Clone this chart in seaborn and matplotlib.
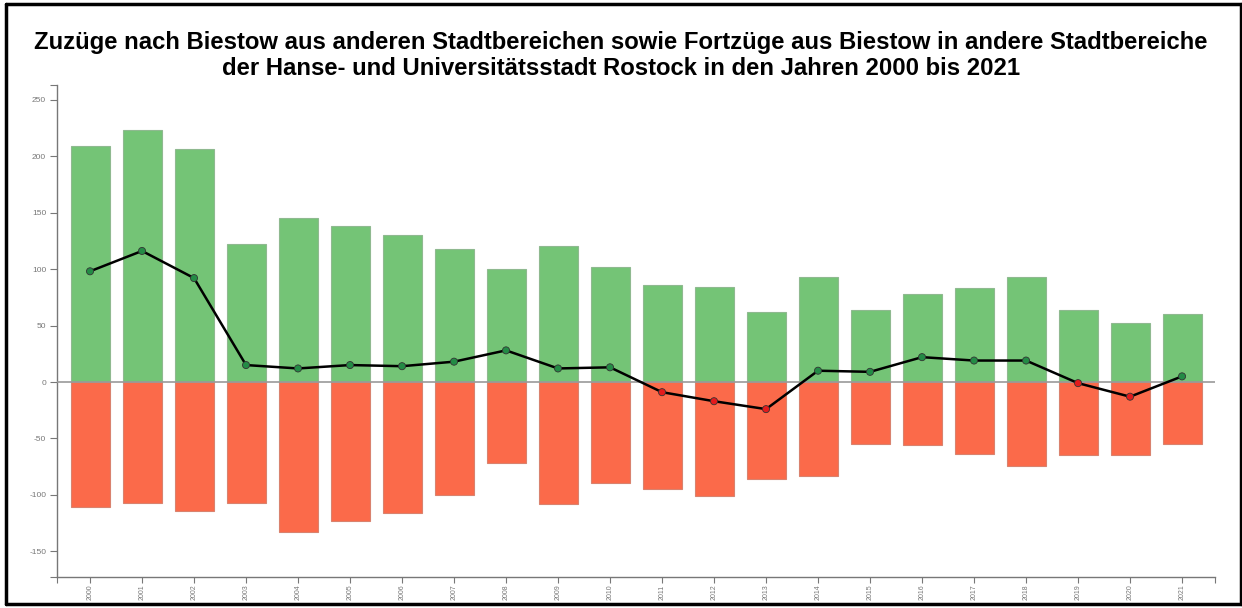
import matplotlib
matplotlib.use("Agg")
import matplotlib.pyplot as plt
import numpy as np
import pandas as pd
import seaborn as sns
from matplotlib.lines import Line2D

# Zuzüge / Fortzüge Biestow, 2000-2021
years = list(range(2000, 2022))
zuzuege = [209, 223, 206, 122, 145, 138, 130, 118, 100, 120, 102,
           86, 84, 62, 93, 64, 78, 83, 93, 64, 52, 60]
fortzuege = [-111, -107, -114, -107, -133, -123, -116, -100, -72, -108, -89,
             -95, -101, -86, -83, -55, -56, -64, -74, -65, -65, -55]
saldo = [z + f for z, f in zip(zuzuege, fortzuege)]

TITLE = ("Zuzüge nach Biestow aus anderen Stadtbereichen sowie Fortzüge aus Biestow in andere Stadtbereiche\n"
         "der Hanse- und Universitätsstadt Rostock in den Jahren 2000 bis 2021")

GREEN = "#74c476"
RED = "#fb6a4a"
GRAY = "#777777"

df = pd.DataFrame(dict(jahr=years, zuzuege=zuzuege, fortzuege=fortzuege, saldo=saldo))
df["vorzeichen"] = np.where(df["saldo"] >= 0, "plus", "minus")

sns.set_style("white")
plt.rcParams["font.family"] = ["Liberation Sans", "DejaVu Sans"]

fig = plt.figure(figsize=(12.42, 6.08), dpi=100)
ax = fig.add_axes([0.0461, 0.051, 0.932, 0.809])

sns.barplot(data=df, x="jahr", y="zuzuege", native_scale=True, width=0.75,
            color=GREEN, saturation=1, edgecolor="#8fb990", linewidth=0.8, ax=ax)
sns.barplot(data=df, x="jahr", y="fortzuege", native_scale=True, width=0.75,
            color=RED, saturation=1, edgecolor="#d9826e", linewidth=0.8, ax=ax)

ax.axhline(0, color="#999999", linewidth=1.2, zorder=3)

sns.lineplot(data=df, x="jahr", y="saldo", color="black", linewidth=1.8,
             zorder=4, ax=ax, legend=False)
sns.scatterplot(data=df, x="jahr", y="saldo", hue="vorzeichen",
                palette={"plus": "#238b45", "minus": "#e31a1c"},
                s=26, edgecolor="#333333", linewidth=0.6, zorder=5,
                ax=ax, legend=False)

ax.set_xlim(years[0] - 0.63, years[-1] + 0.63)
ax.set_ylim(-172.6, 262.8)
ax.set_xticks(years)
ax.set_xticklabels([str(y) for y in years], rotation=90, fontsize=5, color=GRAY)
ax.set_yticks(np.arange(-150, 251, 50))
ax.set_yticklabels([str(v) for v in np.arange(-150, 251, 50)], fontsize=6, color=GRAY)
ax.set_xticks([years[0] - 0.63, years[-1] + 0.63], minor=True)
ax.set_yticks([-172.6, 262.8], minor=True)
ax.tick_params(axis="y", which="both", direction="out", length=5, width=0.8,
               color=GRAY, pad=3, left=True)
ax.tick_params(axis="x", which="both", direction="out", length=4, width=0.8,
               color=GRAY, pad=1.5, bottom=True)
ax.set_xlabel("")
ax.set_ylabel("")

for side in ["top", "right"]:
    ax.spines[side].set_visible(False)
for side in ["left", "bottom"]:
    ax.spines[side].set_color(GRAY)
    ax.spines[side].set_linewidth(1.0)

fig.text(0.5, 0.909, TITLE, ha="center", va="center", fontsize=17.2,
         fontweight="bold", linespacing=1.15, color="black")

# Rahmen um die ganze Grafik
for xs, ys in [([0.005, 0.005], [0.006, 0.993]),
               ([0.005, 0.999], [0.993, 0.993]),
               ([0.005, 0.999], [0.006, 0.006]),
               ([0.999, 0.999], [0.006, 0.993])]:
    fig.add_artist(Line2D(xs, ys, color="black", linewidth=2.5, transform=fig.transFigure))

fig.savefig("out.png", dpi=100)
